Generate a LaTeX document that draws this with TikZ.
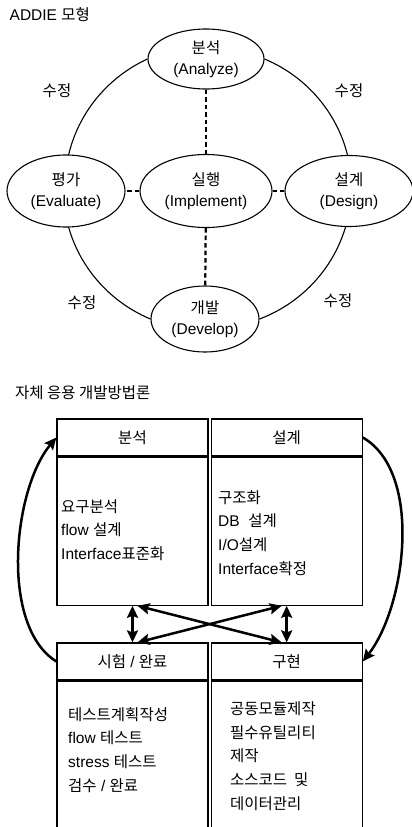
\documentclass[tikz,border=0pt]{standalone}
\usepackage{fontspec}
\setmainfont{Liberation Sans}
\newfontfamily\krfont{Noto Sans CJK KR}
\newcommand\hk[1]{{\krfont #1}}
\usetikzlibrary{positioning,shapes.geometric,arrows.meta,backgrounds}

\tikzset{
  stage/.style={draw,ellipse,fill=white,inner sep=0pt,align=center,line width=1.1pt},
  ring/.style={line width=1.1pt,x radius=143pt,y radius=141pt},
  link/.style={line width=2.2pt,dash pattern=on 4.5pt off 3pt},
  cell/.style={draw,rectangle,inner sep=0pt,minimum width=151pt,line width=1.2pt},
  items/.style={align=left,inner sep=0pt,anchor=west,font=\fontsize{15.5}{23.8}\selectfont},
  flow/.style={line width=2.9pt,{Stealth[length=12pt,width=11pt,inset=2pt]}-{Stealth[length=12pt,width=11pt,inset=2pt]}},
  rework/.style={line width=2.5pt,-{Stealth[length=12pt,width=11pt,inset=2pt]}},
}

\begin{document}
\begin{tikzpicture}[x=1pt,y=1pt,font=\fontsize{15.5}{21.5}\selectfont]
\useasboundingbox (0,0) rectangle (412,-827);
\clip (0,0) rectangle (412,-827);

% ADDIE
\node[anchor=base west,inner sep=0pt] (title1) at (9.5,-20.7) {ADDIE \hk{모형}};
\node[stage,minimum width=116pt,minimum height=60pt] (ana) at (206,-59) {\hk{분석}\\(Analyze)};
\node[stage,minimum width=118pt,minimum height=72pt] (eva) at (66,-191) {\hk{평가}\\(Evaluate)};
\node[stage,minimum width=132pt,minimum height=73pt] (imp) at (206,-191) {\hk{실행}\\(Implement)};
\node[stage,minimum width=128pt,minimum height=71pt] (des) at (349,-191) {\hk{설계}\\(Design)};
\node[stage,minimum width=108pt,minimum height=66pt] (dev) at (205,-319) {\hk{개발}\\(Develop)};

\begin{scope}[on background layer]
  \draw[ring] (ana.west) arc[start angle=115,end angle=175];
  \draw[ring] (ana.east) arc[start angle=67,end angle=5];
  \draw[ring] (dev.west) arc[start angle=247,end angle=185];
  \draw[ring] (dev.east) arc[start angle=291,end angle=355];
\end{scope}

\draw[link] (ana) -- (imp);
\draw[link] (imp) -- (eva);
\draw[link] (imp) -- (des);
\draw[link] (imp) -- (dev);

\node (fix1) at (57,-91) {\hk{수정}};
\node (fix2) at (349,-91) {\hk{수정}};
\node (fix3) at (82,-303) {\hk{수정}};
\node (fix4) at (338,-301) {\hk{수정}};

% method
\node[anchor=base west,inner sep=0pt] (title2) at (15,-398) {\hk{자체 응용 개발방법론}};

\node[cell,minimum height=37pt] (h1) at (132.5,-437.5) {\hk{분석}};
\node[cell,minimum height=148pt,below=0pt of h1] (b1) {};
\node[cell,minimum height=37pt,right=2pt of h1] (h2) {\hk{설계}};
\node[cell,minimum height=148pt,below=0pt of h2] (b2) {};
\node[cell,minimum height=37pt] (h3) at (132.5,-661.5) {\hk{시험} / \hk{완료}};
\node[cell,minimum height=160pt,below=0pt of h3] (b3) {};
\node[cell,minimum height=37pt,right=2pt of h3] (h4) {\hk{구현}};
\node[cell,minimum height=160pt,below=0pt of h4] (b4) {};

\node[items] (l1) at (61,-530) {\hk{요구분석}\\flow \hk{설계}\\Interface\hk{표준화}};
\node[items] (l2) at (218,-533) {\hk{구조화}\\DB\ \ \hk{설계}\\I/O\hk{설계}\\Interface\hk{확정}};
\node[items] (l3) at (68,-750) {\hk{테스트계획작성}\\flow \hk{테스트}\\stress \hk{테스트}\\\hk{검수} / \hk{완료}};
\node[items] (l4) at (230,-756) {\hk{공동모듈제작}\\\hk{필수유틸리티}\\\hk{제작}\\\hk{소스코드\ \ 및}\\\hk{데이터관리}};

\draw[flow] (b1.south) -- (h3.north);
\draw[flow] (b2.south) -- (h4.north);
\draw[flow,line width=2.5pt] ([xshift=5pt]b1.south) -- ([xshift=-5pt]h4.north);
\draw[flow,line width=2.5pt] ([xshift=-5pt]b2.south) -- ([xshift=5pt]h3.north);

\draw[rework] (h3.west) to[out=148,in=230,looseness=0.77] (h1.west);
\draw[rework] (h2.east) to[out=-30,in=52,looseness=0.8] (h4.east);
\end{tikzpicture}
\end{document}
